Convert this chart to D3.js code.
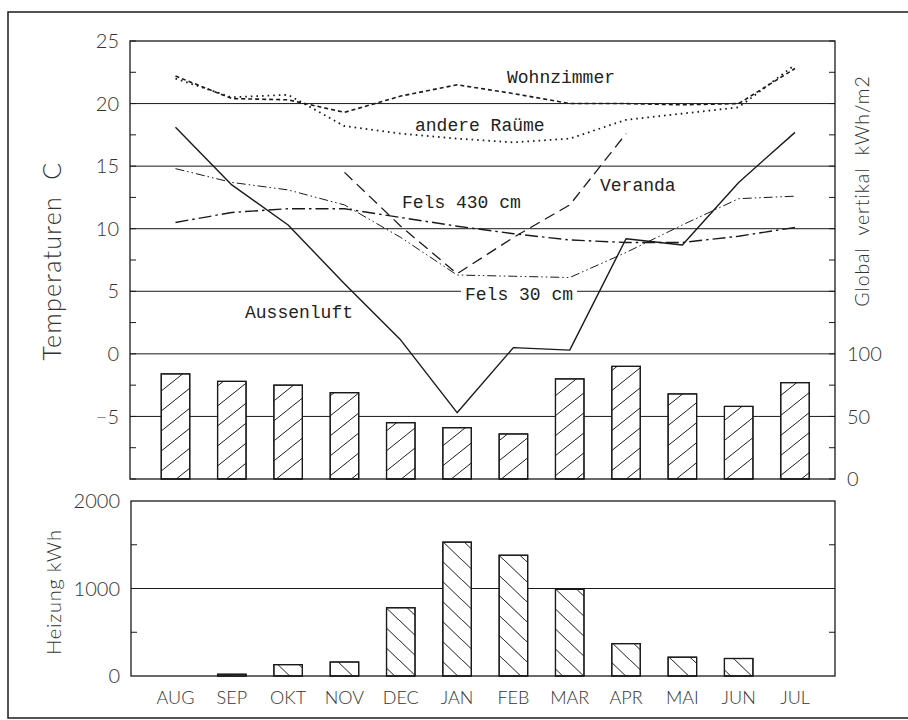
<!DOCTYPE html>
<html>
<head>
<meta charset="utf-8">
<script src="https://cdn.jsdelivr.net/npm/d3@7"></script>
<style>
  html, body { margin: 0; padding: 0; background: #fff; }
  svg { display: block; }
  .sans { font-family: "Lato", "Open Sans", sans-serif; font-weight: 300; fill: #333; }
  .mono { font-family: "Liberation Mono", "DejaVu Sans Mono", monospace; fill: #222; }
</style>
</head>
<body>
<svg id="chart" width="908" height="720"></svg>
<script>
// Monthly values, August to July
const months = ["AUG", "SEP", "OKT", "NOV", "DEC", "JAN", "FEB", "MAR", "APR", "MAI", "JUN", "JUL"];

// Temperatures in °C
const aussenluft   = [18.1, 13.5, 10.3, 5.6, 1.1, -4.7, 0.5, 0.3, 9.2, 8.7, 13.7, 17.7];
const wohnzimmer   = [22.2, 20.4, 20.3, 19.3, 20.6, 21.5, 20.8, 20.0, 20.0, 19.9, 20.0, 22.8];
const andereRaeume = [22.0, 20.5, 20.7, 18.2, 17.6, 17.2, 16.9, 17.2, 18.7, 19.2, 19.7, 23.1];
const veranda      = [null, null, null, 14.5, 10.2, 6.4, 9.3, 11.9, 17.6, null, null, null];
const fels430      = [10.5, 11.3, 11.6, 11.6, 10.9, 10.2, 9.6, 9.1, 8.9, 8.9, 9.4, 10.1];
const fels30       = [14.8, 13.7, 13.1, 11.9, 9.3, 6.3, 6.2, 6.1, 8.1, 10.3, 12.4, 12.6];

// Global radiation on a vertical surface, kWh/m2
const globalVertikal = [84, 78, 75, 69, 45, 41, 36, 80, 90, 68, 58, 77];

// Heating energy, kWh
const heizung = [0, 20, 130, 160, 780, 1530, 1380, 990, 370, 215, 200, 0];

// Axis tick labels
const tempTicks = [25, 20, 15, 10, 5, 0, -5];
const globalTicks = [100, 50, 0];
const heizTicks = [2000, 1000, 0];

const svg = d3.select("#chart");
const ink = "#1a1a1a";

// ---- hatch patterns ----
const defs = svg.append("defs");
defs.append("pattern")
  .attr("id", "hatchFwd").attr("patternUnits", "userSpaceOnUse")
  .attr("width", 25).attr("height", 20)
  .append("path")
  .attr("d", "M-5,24 L30,-4")
  .attr("stroke", ink).attr("stroke-width", 1).attr("fill", "none");
defs.append("pattern")
  .attr("id", "hatchBack").attr("patternUnits", "userSpaceOnUse")
  .attr("width", 21).attr("height", 20)
  .append("path")
  .attr("d", "M-4,-4 L25,24")
  .attr("stroke", ink).attr("stroke-width", 1).attr("fill", "none");

// ---- outer frame ----
svg.append("rect")
  .attr("x", 8).attr("y", 12).attr("width", 940).attr("height", 706)
  .attr("fill", "none").attr("stroke", ink).attr("stroke-width", 1.5);

// ---- layout ----
const upper = { left: 130, right: 835, top: 41, bottom: 479 };
const lower = { left: 131, right: 835, top: 501, bottom: 676 };

const x = d3.scalePoint().domain(months).range([upper.left + 45.5, upper.right - 40]);
const barW = 28.5;

const yT = d3.scaleLinear().domain([-10, 25]).range([upper.bottom, upper.top]);
const yG = d3.scaleLinear().domain([0, 350]).range([upper.bottom, upper.top]);
const yH = d3.scaleLinear().domain([0, 2000]).range([lower.bottom, lower.top]);

// ================= upper panel =================
const gTop = svg.append("g");

// horizontal grid lines
gTop.append("g").selectAll("line")
  .data([20, 15, 10, 5, 0, -5]).join("line")
  .attr("x1", upper.left).attr("x2", upper.right)
  .attr("y1", d => yT(d)).attr("y2", d => yT(d))
  .attr("stroke", ink).attr("stroke-width", 1);

// inward ticks every 2.5 °C on both sides
const tTicks = d3.range(-10, 25.01, 2.5);
gTop.append("g").selectAll("line")
  .data(tTicks).join("line")
  .attr("x1", upper.left).attr("x2", upper.left + 6)
  .attr("y1", d => yT(d)).attr("y2", d => yT(d))
  .attr("stroke", ink);
gTop.append("g").selectAll("line")
  .data(d3.range(0, 350.01, 25)).join("line")
  .attr("x1", upper.right - 6).attr("x2", upper.right)
  .attr("y1", d => yG(d)).attr("y2", d => yG(d))
  .attr("stroke", ink);

// radiation bars
gTop.append("g").selectAll("rect")
  .data(months).join("rect")
  .attr("x", d => x(d) - barW / 2)
  .attr("y", (d, i) => yG(globalVertikal[i]))
  .attr("width", barW)
  .attr("height", (d, i) => yG(0) - yG(globalVertikal[i]))
  .attr("fill", "#fff").attr("stroke", ink).attr("stroke-width", 1.2);
gTop.append("g").selectAll("rect")
  .data(months).join("rect")
  .attr("x", d => x(d) - barW / 2)
  .attr("y", (d, i) => yG(globalVertikal[i]))
  .attr("width", barW)
  .attr("height", (d, i) => yG(0) - yG(globalVertikal[i]))
  .attr("fill", "url(#hatchFwd)").attr("stroke", ink).attr("stroke-width", 1.2);

// panel box
gTop.append("rect")
  .attr("x", upper.left).attr("y", upper.top)
  .attr("width", upper.right - upper.left).attr("height", upper.bottom - upper.top)
  .attr("fill", "none").attr("stroke", ink).attr("stroke-width", 1.3);

// temperature series
const series = [
  { values: aussenluft,   dash: null,                 width: 1.4 },
  { values: wohnzimmer,   dash: "4,3",                width: 1.6 },
  { values: andereRaeume, dash: "1.6,4",              width: 1.8 },
  { values: veranda,      dash: "11,6",               width: 1.3 },
  { values: fels430,      dash: "13,4,2.5,4",         width: 1.4 },
  { values: fels30,       dash: "9,3,1.5,3,1.5,3",    width: 1.0 }
];
const line = d3.line()
  .defined(d => d.v != null)
  .x(d => x(d.m))
  .y(d => yT(d.v));
gTop.append("g").selectAll("path")
  .data(series).join("path")
  .attr("d", s => line(months.map((m, i) => ({ m, v: s.values[i] }))))
  .attr("fill", "none")
  .attr("stroke", ink)
  .attr("stroke-width", s => s.width)
  .attr("stroke-dasharray", s => s.dash)
  .attr("stroke-linejoin", "round");

// series names
const seriesLabels = [
  { text: "Wohnzimmer",   x: 507, y: 83 },
  { text: "andere Raüme", x: 415, y: 131 },
  { text: "Fels 430 cm",  x: 402, y: 208 },
  { text: "Veranda",      x: 600, y: 191 },
  { text: "Fels 30 cm",   x: 465, y: 300, knockout: true },
  { text: "Aussenluft",   x: 245, y: 318 }
];
seriesLabels.filter(d => d.knockout).forEach(d => {
  gTop.append("rect")
    .attr("x", d.x - 4).attr("y", d.y - 14)
    .attr("width", d.text.length * 10.8 + 8).attr("height", 18)
    .attr("fill", "#fff");
});
gTop.append("g").selectAll("text")
  .data(seriesLabels).join("text")
  .attr("class", "mono")
  .attr("x", d => d.x).attr("y", d => d.y)
  .attr("font-size", 18)
  .style("white-space", "pre")
  .text(d => d.text);

// tick labels
gTop.append("g").selectAll("text")
  .data(tempTicks).join("text")
  .attr("class", "sans")
  .attr("x", 119).attr("y", d => yT(d))
  .attr("dy", "0.36em")
  .attr("text-anchor", "end")
  .attr("font-size", 20)
  .text(d => d < 0 ? "\u2212" + Math.abs(d) : d);
gTop.append("g").selectAll("text")
  .data(globalTicks).join("text")
  .attr("class", "sans")
  .attr("x", 847).attr("y", d => yG(d))
  .attr("dy", "0.36em")
  .attr("font-size", 20)
  .text(d => d);

// axis titles
svg.append("text")
  .attr("class", "sans")
  .attr("transform", "translate(61,261) rotate(-90)")
  .attr("text-anchor", "middle")
  .attr("font-size", 25)
  .attr("letter-spacing", 1.3)
  .style("white-space", "pre")
  .text("Temperaturen  C");
svg.append("text")
  .attr("class", "sans")
  .attr("transform", "translate(869,191) rotate(-90)")
  .attr("text-anchor", "middle")
  .attr("font-size", 19.5)
  .attr("letter-spacing", 0.9)
  .style("white-space", "pre")
  .text("Global  vertikal  kWh/m2");

// ================= lower panel =================
const gBot = svg.append("g");

gBot.append("line")
  .attr("x1", lower.left).attr("x2", lower.right)
  .attr("y1", yH(1000)).attr("y2", yH(1000))
  .attr("stroke", ink);

[500, 1500].forEach(v => {
  gBot.append("line")
    .attr("x1", lower.left).attr("x2", lower.left + 6)
    .attr("y1", yH(v)).attr("y2", yH(v)).attr("stroke", ink);
  gBot.append("line")
    .attr("x1", lower.right - 6).attr("x2", lower.right)
    .attr("y1", yH(v)).attr("y2", yH(v)).attr("stroke", ink);
});

const heizData = months.map((m, i) => ({ m, v: heizung[i] })).filter(d => d.v > 0);
gBot.append("g").selectAll("rect")
  .data(heizData).join("rect")
  .attr("x", d => x(d.m) - barW / 2)
  .attr("y", d => yH(d.v))
  .attr("width", barW)
  .attr("height", d => yH(0) - yH(d.v))
  .attr("fill", "#fff").attr("stroke", ink).attr("stroke-width", 1.2);
gBot.append("g").selectAll("rect")
  .data(heizData).join("rect")
  .attr("x", d => x(d.m) - barW / 2)
  .attr("y", d => yH(d.v))
  .attr("width", barW)
  .attr("height", d => yH(0) - yH(d.v))
  .attr("fill", "url(#hatchBack)").attr("stroke", ink).attr("stroke-width", 1.2);

gBot.append("rect")
  .attr("x", lower.left).attr("y", lower.top)
  .attr("width", lower.right - lower.left).attr("height", lower.bottom - lower.top)
  .attr("fill", "none").attr("stroke", ink).attr("stroke-width", 1.3);

gBot.append("g").selectAll("text")
  .data(heizTicks).join("text")
  .attr("class", "sans")
  .attr("x", 120).attr("y", d => yH(d))
  .attr("dy", "0.36em")
  .attr("text-anchor", "end")
  .attr("font-size", 20)
  .text(d => d);

gBot.append("g").selectAll("text")
  .data(months).join("text")
  .attr("class", "sans")
  .attr("x", d => x(d)).attr("y", 704)
  .attr("text-anchor", "middle")
  .attr("font-size", 18)
  .text(d => d);

svg.append("text")
  .attr("class", "sans")
  .attr("transform", "translate(61,592) rotate(-90)")
  .attr("text-anchor", "middle")
  .attr("font-size", 20)
  .attr("letter-spacing", 0.8)
  .text("Heizung kWh");
</script>
</body>
</html>
